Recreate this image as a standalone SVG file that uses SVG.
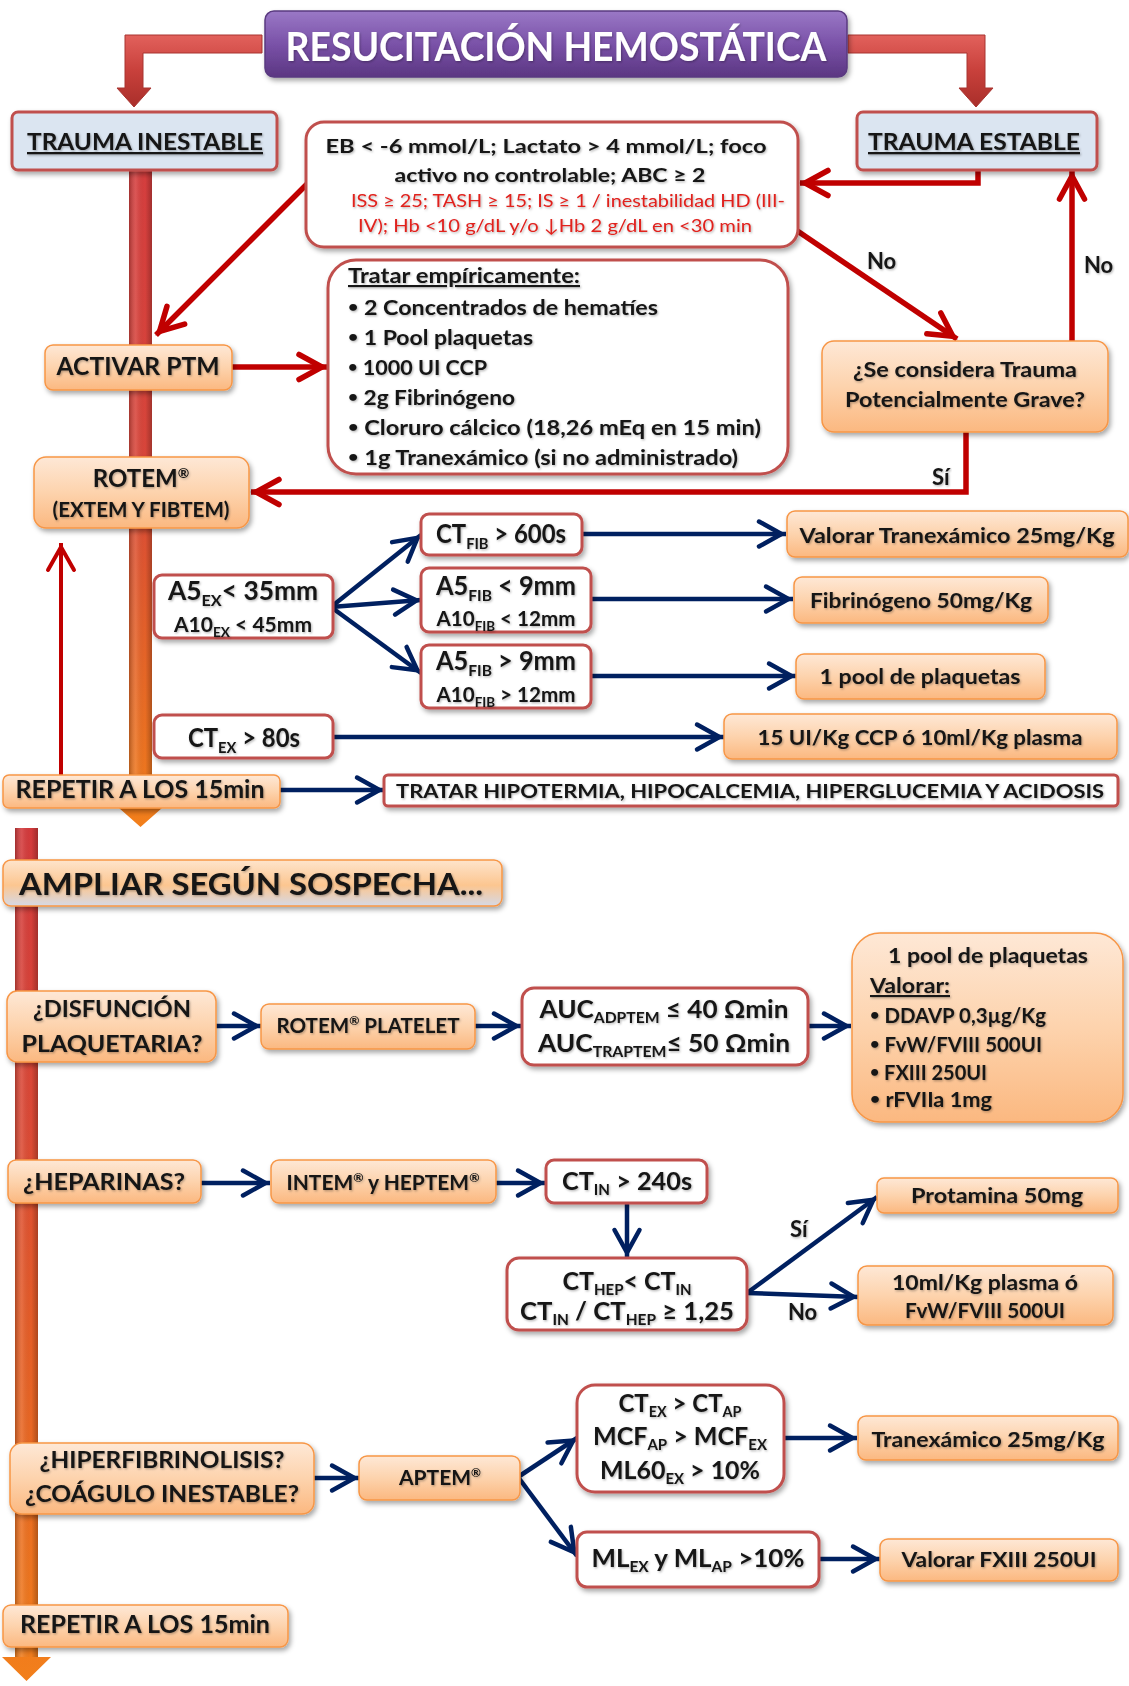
<svg xmlns="http://www.w3.org/2000/svg" width="1129" height="1686" viewBox="0 0 1129 1686">
<defs>
<style>
.t{font-family:Lato,'Liberation Sans',sans-serif;font-weight:bold;fill:#141414;filter:url(#ts)}
.n{font-weight:normal}
.c{text-anchor:middle}
.u{text-decoration:underline}
.b{font-size:16px}
.or{fill:url(#gOr);stroke:#f79646;stroke-width:1.5;filter:url(#sh)}
.wr{fill:#fff;stroke:#c0504d;stroke-width:3;filter:url(#sh)}
.bx{fill:#dbe5f1;stroke:#c0504d;stroke-width:3;filter:url(#sh)}
.rl{fill:none;stroke:#c00000;stroke-width:5.5;marker-end:url(#mr)}
.rt{fill:none;stroke:#c00000;stroke-width:4;marker-end:url(#mr2)}
.bl{fill:none;stroke:#002060;stroke-width:4.5;marker-end:url(#mb)}
</style>
<linearGradient id="gOr" x1="0" y1="0" x2="0" y2="1">
<stop offset="0" stop-color="#fee8d6"/><stop offset="0.5" stop-color="#fdd3ad"/><stop offset="1" stop-color="#fbb880"/>
</linearGradient>
<linearGradient id="gAmp" x1="0" y1="0" x2="0" y2="1">
<stop offset="0" stop-color="#fee4cc"/><stop offset="0.55" stop-color="#fcc690"/><stop offset="1" stop-color="#d5d9e6"/>
</linearGradient>
<linearGradient id="gPur" x1="0" y1="0" x2="0" y2="1">
<stop offset="0" stop-color="#9a78c6"/><stop offset="0.5" stop-color="#7a52a8"/><stop offset="1" stop-color="#5b3682"/>
</linearGradient>
<linearGradient id="gRedBar" x1="0" y1="0" x2="0" y2="1">
<stop offset="0" stop-color="#e2615c"/><stop offset="0.5" stop-color="#c8403b"/><stop offset="1" stop-color="#a92e2a"/>
</linearGradient>
<linearGradient id="gUp" gradientUnits="userSpaceOnUse" x1="0" y1="170" x2="0" y2="827">
<stop offset="0" stop-color="#d63e3e"/><stop offset="0.45" stop-color="#d9463a"/><stop offset="0.65" stop-color="#e25b2c"/><stop offset="1" stop-color="#f27f1b"/>
</linearGradient>
<linearGradient id="gLow" gradientUnits="userSpaceOnUse" x1="0" y1="828" x2="0" y2="1681">
<stop offset="0" stop-color="#d43a3c"/><stop offset="0.35" stop-color="#dc4a36"/><stop offset="0.6" stop-color="#e65f27"/><stop offset="1" stop-color="#f27f1b"/>
</linearGradient>
<linearGradient id="gShade" x1="0" y1="0" x2="1" y2="0">
<stop offset="0" stop-color="#000" stop-opacity="0.25"/><stop offset="0.3" stop-color="#fff" stop-opacity="0.12"/><stop offset="0.7" stop-color="#000" stop-opacity="0"/><stop offset="1" stop-color="#000" stop-opacity="0.25"/>
</linearGradient>
<filter id="sh" x="-10%" y="-20%" width="125%" height="150%">
<feDropShadow dx="2" dy="3" stdDeviation="2.5" flood-color="#000" flood-opacity="0.35"/>
</filter>
<filter id="ts" x="-5%" y="-20%" width="110%" height="150%">
<feDropShadow dx="1" dy="1.2" stdDeviation="0.8" flood-color="#000" flood-opacity="0.3"/>
</filter>
<marker id="mr" viewBox="-34 -17 38 34" markerWidth="38" markerHeight="34" refX="0" refY="0" orient="auto" markerUnits="userSpaceOnUse">
<path d="M-28,-12.5 L-5,0 L-28,12.5" fill="none" stroke="#c00000" stroke-width="5.5" stroke-linecap="round"/>
</marker>
<marker id="mr2" viewBox="-34 -17 38 34" markerWidth="38" markerHeight="34" refX="0" refY="0" orient="auto" markerUnits="userSpaceOnUse">
<path d="M-27,-13 L-4,0 L-27,13" fill="none" stroke="#c00000" stroke-width="4" stroke-linecap="round"/>
</marker>
<marker id="mb" viewBox="-34 -17 38 34" markerWidth="38" markerHeight="34" refX="0" refY="0" orient="auto" markerUnits="userSpaceOnUse">
<path d="M-27,-12.5 L-4.5,0 L-27,12.5" fill="none" stroke="#002060" stroke-width="4.5" stroke-linecap="round"/>
</marker>
</defs>
<rect width="1129" height="1686" fill="#fff"/>

<!-- big vertical arrows -->
<g id="spine-upper">
<path d="M129,170 H152 V808 H162 L140.5,827 L119,808 H129 Z" fill="url(#gUp)"/>
<rect x="129" y="170" width="23" height="638" fill="url(#gShade)"/>
</g>
<g id="spine-lower">
<path d="M15,828 H38 V1657 H51 L26.5,1681 L2,1657 H15 Z" fill="url(#gLow)"/>
<rect x="15" y="828" width="23" height="829" fill="url(#gShade)"/>
</g>

<g id="connectors">
<path d="M262,35 H125 V88 H117 L134,107 L151,88 H143 V53 H262 Z" fill="url(#gRedBar)" stroke="#a83430" stroke-width="1"/>
<path d="M848,35 H985 V88 H993 L976,107 L959,88 H967 V53 H848 Z" fill="url(#gRedBar)" stroke="#a83430" stroke-width="1"/>
<path class="rl" d="M308,183 L156,335"/>
<path class="rl" d="M232,367 H327"/>
<path class="rl" d="M978,170 V183 H800"/>
<path class="rl" d="M796,230 L957,339"/>
<path class="rl" d="M1072,342 V171"/>
<path class="rl" d="M966,432 V492 H251"/>
<path class="rt" d="M61,775 V543"/>
<path class="bl" d="M331,607 L421,535"/>
<path class="bl" d="M331,607 L421,600"/>
<path class="bl" d="M331,607 L421,673"/>
<path class="bl" d="M582,534 H786"/>
<path class="bl" d="M591,599 H793"/>
<path class="bl" d="M591,676 H796"/>
<path class="bl" d="M333,737 H724"/>
<path class="bl" d="M280,790 H384"/>
<path class="bl" d="M216,1026 H261"/>
<path class="bl" d="M475,1026 H521"/>
<path class="bl" d="M809,1026 H851"/>
<path class="bl" d="M201,1183 H270"/>
<path class="bl" d="M496,1183 H545"/>
<path class="bl" d="M627,1204 V1257"/>
<path class="bl" d="M747,1293 L877,1197"/>
<path class="bl" d="M747,1293 L858,1297"/>
<path class="bl" d="M314,1478 H359"/>
<path class="bl" d="M518,1477 L577,1438"/>
<path class="bl" d="M518,1477 L577,1556"/>
<path class="bl" d="M784,1438 H857"/>
<path class="bl" d="M819,1559 H880"/>
<text class="t" x="867" y="269" font-size="22">No</text>
<text class="t" x="1084" y="273" font-size="22">No</text>
<text class="t" x="932" y="485" font-size="22">Sí</text>
<text class="t" x="790" y="1237" font-size="22">Sí</text>
<text class="t" x="788" y="1320" font-size="22">No</text>
</g>

<g id="title">
<rect x="265" y="11" width="582" height="66" rx="9" fill="url(#gPur)" stroke="#5a3a80" stroke-width="1.5" filter="url(#sh)"/>
<text x="556" y="61" font-size="40" font-family="Lato,'Liberation Sans',sans-serif" font-weight="bold" fill="#fff" text-anchor="middle" textLength="541" lengthAdjust="spacingAndGlyphs" filter="url(#ts)">RESUCITACIÓN HEMOSTÁTICA</text>
</g>

<g id="trauma-inestable">
<rect class="bx" x="12" y="112" width="265" height="58" rx="6"/>
<text class="t c u" x="145" y="150" font-size="23" textLength="236" lengthAdjust="spacingAndGlyphs">TRAUMA INESTABLE</text>
</g>
<g id="trauma-estable">
<rect class="bx" x="857" y="112" width="240" height="58" rx="6"/>
<text class="t c u" x="974" y="150" font-size="23" textLength="212" lengthAdjust="spacingAndGlyphs">TRAUMA ESTABLE</text>
</g>

<g id="criterios">
<rect class="wr" x="306" y="122" width="492" height="125" rx="18"/>
<text class="t c" x="546" y="153" font-size="19" textLength="441" lengthAdjust="spacingAndGlyphs">EB &lt; -6 mmol/L; Lactato &gt; 4 mmol/L; foco</text>
<text class="t c" x="550" y="182" font-size="19" textLength="311" lengthAdjust="spacingAndGlyphs">activo no controlable;  ABC ≥ 2</text>
<text class="t c n" x="568" y="207" font-size="18" style="fill:#e0201c" textLength="434" lengthAdjust="spacingAndGlyphs">ISS ≥ 25; TASH ≥ 15; IS ≥ 1 / inestabilidad HD (III-</text>
<text class="t c n" x="555" y="232" font-size="18" style="fill:#e0201c" textLength="394" lengthAdjust="spacingAndGlyphs">IV); Hb &lt;10 g/dL y/o ↓Hb 2 g/dL en &lt;30 min</text>
</g>

<g id="tratar-empiricamente">
<rect class="wr" x="328" y="260" width="460" height="214" rx="28"/>
<text class="t u" x="348" y="283" font-size="21" textLength="232" lengthAdjust="spacingAndGlyphs">Tratar  empíricamente:</text>
<text class="t" x="348" y="315" font-size="21" textLength="310" lengthAdjust="spacingAndGlyphs"><tspan class="b" dy="-3">•</tspan><tspan dy="3"> 2 Concentrados  de hematíes</tspan></text>
<text class="t" x="348" y="345" font-size="21" textLength="185" lengthAdjust="spacingAndGlyphs"><tspan class="b" dy="-3">•</tspan><tspan dy="3"> 1 Pool  plaquetas</tspan></text>
<text class="t" x="348" y="375" font-size="21" textLength="139" lengthAdjust="spacingAndGlyphs"><tspan class="b" dy="-3">•</tspan><tspan dy="3"> 1000 UI CCP</tspan></text>
<text class="t" x="348" y="405" font-size="21" textLength="167" lengthAdjust="spacingAndGlyphs"><tspan class="b" dy="-3">•</tspan><tspan dy="3"> 2g Fibrinógeno</tspan></text>
<text class="t" x="348" y="435" font-size="21" textLength="413" lengthAdjust="spacingAndGlyphs"><tspan class="b" dy="-3">•</tspan><tspan dy="3">  Cloruro  cálcico (18,26 mEq en 15 min)</tspan></text>
<text class="t" x="348" y="465" font-size="21" textLength="390" lengthAdjust="spacingAndGlyphs"><tspan class="b" dy="-3">•</tspan><tspan dy="3"> 1g Tranexámico  (si no administrado)</tspan></text>
</g>

<g id="activar-ptm">
<rect class="or" x="45" y="345" width="187" height="45" rx="8"/>
<text class="t c" x="138" y="375" font-size="24" textLength="163" lengthAdjust="spacingAndGlyphs">ACTIVAR PTM</text>
</g>

<g id="se-considera">
<rect class="or" x="822" y="341" width="286" height="91" rx="12"/>
<text class="t c" x="965" y="377" font-size="20" textLength="224" lengthAdjust="spacingAndGlyphs">¿Se considera  Trauma</text>
<text class="t c" x="965" y="407" font-size="20" textLength="240" lengthAdjust="spacingAndGlyphs">Potencialmente  Grave?</text>
</g>

<g id="rotem">
<rect class="or" x="34" y="457" width="215" height="71" rx="12"/>
<text class="t c" x="141" y="487" font-size="24">ROTEM<tspan font-size="14" dy="-9">®</tspan></text>
<text class="t c" x="141" y="517" font-size="20" textLength="177" lengthAdjust="spacingAndGlyphs">(EXTEM Y FIBTEM)</text>
</g>

<g id="a5ex">
<rect class="wr" x="154" y="575" width="179" height="63" rx="8"/>
<text class="t c" x="243" y="600" font-size="26" textLength="150" lengthAdjust="spacingAndGlyphs">A5<tspan font-size="16" dy="6">EX</tspan><tspan dy="-6">&lt; 35mm</tspan></text>
<text class="t c" x="243" y="632" font-size="20" textLength="138" lengthAdjust="spacingAndGlyphs">A10<tspan font-size="13" dy="5">EX</tspan><tspan dy="-5"> &lt; 45mm</tspan></text>
</g>

<g id="ctfib">
<rect class="wr" x="421" y="514" width="161" height="41" rx="8"/>
<text class="t c" x="501" y="543" font-size="26" textLength="130" lengthAdjust="spacingAndGlyphs">CT<tspan font-size="16" dy="6">FIB</tspan><tspan dy="-6"> &gt; 600s</tspan></text>
</g>

<g id="a5fib-menor">
<rect class="wr" x="421" y="568" width="170" height="64" rx="8"/>
<text class="t c" x="506" y="595" font-size="26" textLength="140" lengthAdjust="spacingAndGlyphs">A5<tspan font-size="16" dy="6">FIB</tspan><tspan dy="-6"> &lt; 9mm</tspan></text>
<text class="t c" x="506" y="626" font-size="20" textLength="139" lengthAdjust="spacingAndGlyphs">A10<tspan font-size="13" dy="5">FIB</tspan><tspan dy="-5"> &lt; 12mm</tspan></text>
</g>

<g id="a5fib-mayor">
<rect class="wr" x="421" y="645" width="170" height="63" rx="8"/>
<text class="t c" x="506" y="670" font-size="26" textLength="140" lengthAdjust="spacingAndGlyphs">A5<tspan font-size="16" dy="6">FIB</tspan><tspan dy="-6"> &gt; 9mm</tspan></text>
<text class="t c" x="506" y="702" font-size="20" textLength="139" lengthAdjust="spacingAndGlyphs">A10<tspan font-size="13" dy="5">FIB</tspan><tspan dy="-5"> &gt; 12mm</tspan></text>
</g>

<g id="ctex">
<rect class="wr" x="154" y="715" width="179" height="43" rx="8"/>
<text class="t c" x="244" y="747" font-size="26" textLength="112" lengthAdjust="spacingAndGlyphs">CT<tspan font-size="16" dy="6">EX</tspan><tspan dy="-6"> &gt; 80s</tspan></text>
</g>

<g id="repetir-1">
<rect class="or" x="3" y="775" width="277" height="33" rx="6"/>
<text class="t c" x="140" y="798" font-size="24" textLength="249" lengthAdjust="spacingAndGlyphs">REPETIR A LOS 15min</text>
</g>

<g id="valorar-tranexamico">
<rect class="or" x="787" y="511" width="341" height="46" rx="8"/>
<text class="t c" x="957" y="543" font-size="21" textLength="315" lengthAdjust="spacingAndGlyphs">Valorar  Tranexámico  25mg/Kg</text>
</g>
<g id="fibrinogeno">
<rect class="or" x="794" y="577" width="254" height="46" rx="8"/>
<text class="t c" x="921" y="608" font-size="21" textLength="222" lengthAdjust="spacingAndGlyphs">Fibrinógeno  50mg/Kg</text>
</g>
<g id="pool-1">
<rect class="or" x="796" y="654" width="249" height="45" rx="8"/>
<text class="t c" x="920" y="684" font-size="21" textLength="201" lengthAdjust="spacingAndGlyphs">1 pool de plaquetas</text>
</g>
<g id="ccp">
<rect class="or" x="724" y="714" width="393" height="45" rx="8"/>
<text class="t c" x="920" y="745" font-size="21" textLength="325" lengthAdjust="spacingAndGlyphs">15 UI/Kg CCP ó 10ml/Kg plasma</text>
</g>
<g id="tratar-hipotermia">
<rect class="wr" x="384" y="775" width="734" height="31" rx="4"/>
<text class="t c" x="750" y="798" font-size="19" textLength="708" lengthAdjust="spacingAndGlyphs">TRATAR HIPOTERMIA,  HIPOCALCEMIA,  HIPERGLUCEMIA  Y ACIDOSIS</text>
</g>

<g id="ampliar">
<rect x="3" y="860" width="499" height="46" rx="8" fill="url(#gAmp)" stroke="#f79646" stroke-width="1.5" filter="url(#sh)"/>
<text class="t" x="19" y="895" font-size="31" textLength="464" lengthAdjust="spacingAndGlyphs">AMPLIAR SEGÚN SOSPECHA...</text>
</g>

<g id="disfuncion">
<rect class="or" x="7" y="991" width="209" height="71" rx="10"/>
<text class="t c" x="112" y="1017" font-size="23" textLength="158" lengthAdjust="spacingAndGlyphs">¿DISFUNCIÓN</text>
<text class="t c" x="112" y="1052" font-size="23" textLength="181" lengthAdjust="spacingAndGlyphs">PLAQUETARIA?</text>
</g>
<g id="rotem-platelet">
<rect class="or" x="261" y="1004" width="214" height="45" rx="8"/>
<text class="t c" x="368" y="1033" font-size="20" textLength="183" lengthAdjust="spacingAndGlyphs">ROTEM<tspan font-size="12" dy="-8">®</tspan><tspan dy="8"> PLATELET</tspan></text>
</g>
<g id="auc">
<rect class="wr" x="522" y="988" width="286" height="77" rx="12"/>
<text class="t c" x="664" y="1018" font-size="25" textLength="249" lengthAdjust="spacingAndGlyphs">AUC<tspan font-size="15" dy="5">ADPTEM</tspan><tspan dy="-5"> ≤ 40 Ωmin</tspan></text>
<text class="t c" x="664" y="1052" font-size="25" textLength="252" lengthAdjust="spacingAndGlyphs">AUC<tspan font-size="15" dy="5">TRAPTEM</tspan><tspan dy="-5">≤ 50 Ωmin</tspan></text>
</g>
<g id="pool-valorar">
<rect class="or" x="852" y="933" width="271" height="189" rx="28"/>
<text class="t c" x="988" y="963" font-size="21" textLength="200" lengthAdjust="spacingAndGlyphs">1 pool de plaquetas</text>
<text class="t u" x="870" y="993" font-size="21" textLength="80" lengthAdjust="spacingAndGlyphs">Valorar:</text>
<text class="t" x="870" y="1023" font-size="20" textLength="176" lengthAdjust="spacingAndGlyphs"><tspan class="b" dy="-3">•</tspan><tspan dy="3"> DDAVP 0,3µg/Kg</tspan></text>
<text class="t" x="870" y="1052" font-size="20" textLength="172" lengthAdjust="spacingAndGlyphs"><tspan class="b" dy="-3">•</tspan><tspan dy="3"> FvW/FVIII 500UI</tspan></text>
<text class="t" x="870" y="1080" font-size="20" textLength="117" lengthAdjust="spacingAndGlyphs"><tspan class="b" dy="-3">•</tspan><tspan dy="3"> FXIII 250UI</tspan></text>
<text class="t" x="870" y="1107" font-size="20" textLength="122" lengthAdjust="spacingAndGlyphs"><tspan class="b" dy="-3">•</tspan><tspan dy="3"> rFVIIa  1mg</tspan></text>
</g>

<g id="heparinas">
<rect class="or" x="8" y="1160" width="193" height="43" rx="8"/>
<text class="t c" x="104" y="1190" font-size="23" textLength="162" lengthAdjust="spacingAndGlyphs">¿HEPARINAS?</text>
</g>
<g id="intem-heptem">
<rect class="or" x="271" y="1160" width="225" height="43" rx="8"/>
<text class="t c" x="383" y="1190" font-size="20" textLength="193" lengthAdjust="spacingAndGlyphs">INTEM<tspan font-size="12" dy="-8">®</tspan><tspan dy="8"> y HEPTEM</tspan><tspan font-size="12" dy="-8">®</tspan></text>
</g>
<g id="ctin">
<rect class="wr" x="546" y="1160" width="161" height="43" rx="8"/>
<text class="t c" x="627" y="1190" font-size="25" textLength="130" lengthAdjust="spacingAndGlyphs">CT<tspan font-size="15" dy="5">IN</tspan><tspan dy="-5">  &gt; 240s</tspan></text>
</g>
<g id="cthep">
<rect class="wr" x="507" y="1258" width="240" height="72" rx="12"/>
<text class="t c" x="627" y="1290" font-size="25" textLength="129" lengthAdjust="spacingAndGlyphs">CT<tspan font-size="15" dy="5">HEP</tspan><tspan dy="-5">&lt; CT</tspan><tspan font-size="15" dy="5">IN</tspan></text>
<text class="t c" x="627" y="1320" font-size="25" textLength="214" lengthAdjust="spacingAndGlyphs">CT<tspan font-size="15" dy="5">IN</tspan><tspan dy="-5"> / CT</tspan><tspan font-size="15" dy="5">HEP</tspan><tspan dy="-5"> ≥ 1,25</tspan></text>
</g>
<g id="protamina">
<rect class="or" x="877" y="1178" width="241" height="35" rx="7"/>
<text class="t c" x="997" y="1203" font-size="21" textLength="172" lengthAdjust="spacingAndGlyphs">Protamina  50mg</text>
</g>
<g id="plasma-fvw">
<rect class="or" x="858" y="1266" width="255" height="59" rx="9"/>
<text class="t c" x="985" y="1290" font-size="21" textLength="186" lengthAdjust="spacingAndGlyphs">10ml/Kg plasma  ó</text>
<text class="t c" x="985" y="1318" font-size="21" textLength="160" lengthAdjust="spacingAndGlyphs">FvW/FVIII 500UI</text>
</g>

<g id="hiperfibrinolisis">
<rect class="or" x="10" y="1443" width="304" height="71" rx="12"/>
<text class="t c" x="162" y="1468" font-size="23" textLength="245" lengthAdjust="spacingAndGlyphs">¿HIPERFIBRINOLISIS?</text>
<text class="t c" x="162" y="1502" font-size="23" textLength="274" lengthAdjust="spacingAndGlyphs">¿COÁGULO INESTABLE?</text>
</g>
<g id="aptem">
<rect class="or" x="359" y="1456" width="161" height="44" rx="8"/>
<text class="t c" x="440" y="1485" font-size="21">APTEM<tspan font-size="12" dy="-8">®</tspan></text>
</g>
<g id="ctex-ctap">
<rect class="wr" x="577" y="1385" width="207" height="107" rx="18"/>
<text class="t c" x="680" y="1412" font-size="25" textLength="123" lengthAdjust="spacingAndGlyphs">CT<tspan font-size="15" dy="5">EX</tspan><tspan dy="-5"> &gt; CT</tspan><tspan font-size="15" dy="5">AP</tspan></text>
<text class="t c" x="680" y="1445" font-size="25" textLength="174" lengthAdjust="spacingAndGlyphs">MCF<tspan font-size="15" dy="5">AP</tspan><tspan dy="-5"> &gt; MCF</tspan><tspan font-size="15" dy="5">EX</tspan></text>
<text class="t c" x="680" y="1479" font-size="25" textLength="160" lengthAdjust="spacingAndGlyphs">ML60<tspan font-size="15" dy="5">EX</tspan><tspan dy="-5"> &gt; 10%</tspan></text>
</g>
<g id="mlex">
<rect class="wr" x="577" y="1532" width="242" height="55" rx="10"/>
<text class="t c" x="698" y="1567" font-size="25" textLength="213" lengthAdjust="spacingAndGlyphs">ML<tspan font-size="15" dy="5">EX</tspan><tspan dy="-5"> y  ML</tspan><tspan font-size="15" dy="5">AP</tspan><tspan dy="-5"> &gt;10%</tspan></text>
</g>
<g id="tranexamico">
<rect class="or" x="858" y="1416" width="260" height="44" rx="8"/>
<text class="t c" x="988" y="1447" font-size="21" textLength="233" lengthAdjust="spacingAndGlyphs">Tranexámico  25mg/Kg</text>
</g>
<g id="valorar-fxiii">
<rect class="or" x="880" y="1539" width="238" height="42" rx="8"/>
<text class="t c" x="999" y="1567" font-size="21" textLength="195" lengthAdjust="spacingAndGlyphs">Valorar  FXIII 250UI</text>
</g>
<g id="repetir-2">
<rect class="or" x="3" y="1605" width="285" height="42" rx="8"/>
<text class="t c" x="145" y="1633" font-size="24" textLength="250" lengthAdjust="spacingAndGlyphs">REPETIR A LOS 15min</text>
</g>
</svg>
